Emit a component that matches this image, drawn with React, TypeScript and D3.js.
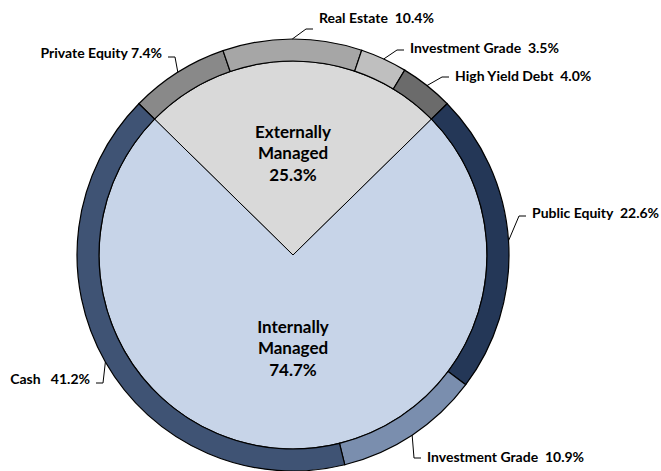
import React from "react";
import * as d3 from "d3";

// ---- data ----
const groupNames = ["Externally", "Internally"];
const groupValues = [25.3, 74.7];
const groupColors = ["#d9d9d9", "#c7d4e8"];

const assetNames = [
  "Private Equity",
  "Real Estate",
  "Investment Grade",
  "High Yield Debt",
  "Public Equity",
  "Investment Grade",
  "Cash",
];
const assetValues = [7.4, 10.4, 3.5, 4.0, 22.6, 10.9, 41.2];
const assetColors = ["#898989", "#a6a6a6", "#bfbfbf", "#6b6b6b", "#243757", "#7a8eae", "#3f5374"];
const assetGaps = [" ", "  ", "  ", "  ", "  ", "  ", "   "];

// ---- layout ----
const W = 661;
const H = 471;
const CX = 293;
const CY = 255;
const R_OUT = 216;
const R_IN = 194;
const FONT = "Lato, 'Open Sans', 'Liberation Sans', sans-serif";

// label anchor (text start/end x, text centre y), side: 1 = text to right of leader, -1 = left
const labelLayout = [
  { x: 162, y: 53, side: -1, ey: 57 },
  { x: 319, y: 18, side: 1, ey: 29 },
  { x: 410, y: 48, side: 1, ey: 50 },
  { x: 455, y: 76, side: 1, ey: 77 },
  { x: 532, y: 213, side: 1, ey: 216 },
  { x: 427, y: 457, side: 1, ey: 458 },
  { x: 90, y: 379, side: -1, ey: 383 },
];
const groupLabelY = [132, 327];

export default function App() {
  const start = -Math.PI * (groupValues[0] / 100);
  const pieGen = d3
    .pie<number>()
    .sort(null)
    .value((d) => d)
    .startAngle(start)
    .endAngle(start + 2 * Math.PI);

  const inner = pieGen(groupValues);
  const outer = pieGen(assetValues);

  const innerArc = d3.arc<d3.PieArcDatum<number>>().innerRadius(0).outerRadius(R_IN);
  const ringArc = d3.arc<d3.PieArcDatum<number>>().innerRadius(R_IN).outerRadius(R_OUT);

  return (
    <svg
      width={W}
      height={H}
      style={{ position: "absolute", left: 0, top: 0, background: "#fff" }}
    >
      <g transform={`translate(${CX},${CY})`}>
        {inner.map((d, i) => (
          <path key={"in" + i} d={innerArc(d) || ""} fill={groupColors[i]} stroke="#000" strokeWidth={1} />
        ))}
        {outer.map((d, i) => (
          <path key={"out" + i} d={ringArc(d) || ""} fill={assetColors[i]} stroke="#000" strokeWidth={1.2} />
        ))}
      </g>
      {/* leader lines */}
      {outer.map((d, i) => {
        const a = (d.startAngle + d.endAngle) / 2;
        const px = CX + R_OUT * Math.sin(a);
        const py = CY - R_OUT * Math.cos(a);
        const L = labelLayout[i];
        const endX = L.x - L.side * 6;
        const elbowX = endX - L.side * 7;
        return (
          <polyline
            key={"ld" + i}
            points={`${px},${py} ${elbowX},${L.ey} ${endX},${L.ey}`}
            fill="none"
            stroke="#000"
            strokeWidth={1}
          />
        );
      })}
      {assetNames.map((n, i) => {
        const L = labelLayout[i];
        return (
          <text
            key={"lb" + i}
            x={L.x}
            y={L.y}
            dy="0.35em"
            textAnchor={L.side === 1 ? "start" : "end"}
            fontFamily={FONT}
            fontWeight="bold"
            fontSize={14}
            fill="#000"
            style={{ whiteSpace: "pre" }}
          >
            {n + assetGaps[i] + assetValues[i].toFixed(1) + "%"}
          </text>
        );
      })}
      {groupNames.map((g, i) => (
        <text
          key={"g" + i}
          x={CX}
          y={groupLabelY[i]}
          textAnchor="middle"
          fontFamily={FONT}
          fontWeight="bold"
          fontSize={17}
          fill="#000"
        >
          {[g, "Managed", groupValues[i].toFixed(1) + "%"].map((t, j) => (
            <tspan key={j} x={CX} y={groupLabelY[i] + j * 21.5} dy="0.35em">
              {t}
            </tspan>
          ))}
        </text>
      ))}
    </svg>
  );
}
